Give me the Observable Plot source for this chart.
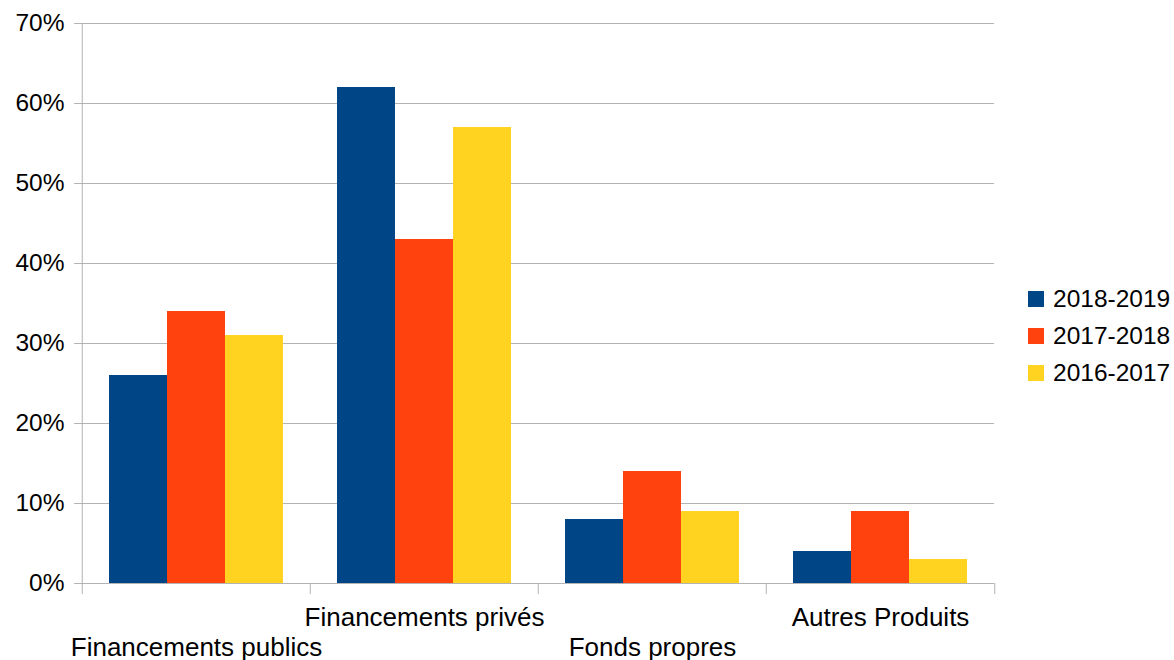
<!DOCTYPE html>
<html><head><meta charset="utf-8">
<script src="https://cdn.jsdelivr.net/npm/d3@7"></script>
<script src="https://cdn.jsdelivr.net/npm/@observablehq/plot@0.6"></script>
<style>
body{margin:0;background:#fff;font-family:"Liberation Sans",Arial,sans-serif;}
#wrap{position:relative;width:1174px;height:660px;}
#legend{position:absolute;left:1028px;top:280px;font-size:24.5px;color:#000;}
.item{display:flex;align-items:center;height:37px;}
.sw{width:16px;height:16px;margin-right:9px;flex:none;}
</style></head><body><div id="wrap"><div id="legend"></div></div>
<script>
const categories = ["Financements publics","Financements privés","Fonds propres","Autres Produits"];
const series = ["2018-2019","2017-2018","2016-2017"];
const values2018_2019 = [26,62,8,4];
const values2017_2018 = [34,43,14,9];
const values2016_2017 = [31,57,9,3];
const seriesColors = ["#004586","#ff420e","#ffd320"];
const yTicks = [0,10,20,30,40,50,60,70];

const seriesValues = [values2018_2019, values2017_2018, values2016_2017];
const data = [];
categories.forEach((c,i)=>series.forEach((s,j)=>data.push({category:c, series:s, value:seriesValues[j][i]})));

const W = 1174, H = 660, mL = 81, mR = 179, mT = 23, mB = 77;
const half = (W - mL - mR) / categories.length / 2;
const gray = "#b3b3b3";
const font = "Liberation Sans, Arial, sans-serif";

const chart = Plot.plot({
  width: W, height: H, marginLeft: mL, marginRight: mR, marginTop: mT, marginBottom: mB,
  style: {fontFamily: font, background: "#fff", overflow: "visible"},
  fx: {domain: categories, padding: 0, axis: null, label: null},
  x: {domain: series, paddingInner: 0, paddingOuter: 0.46, axis: null, label: null},
  y: {domain: [0,70], axis: null, label: null},
  color: {domain: series, range: seriesColors},
  marks: [
    Plot.gridY(yTicks, {stroke: gray, strokeOpacity: 1}),
    Plot.barY(data, {fx: "category", x: "series", y: "value", fill: "series"}),
    Plot.ruleY([0], {stroke: gray}),
    Plot.axisY(yTicks, {tickSize: 8, tickPadding: 10, tickFormat: d => d + "%", fontSize: 24.5, stroke: gray, fill: "#000", label: null}),
    Plot.axisFx({anchor: "bottom", ticks: categories, tickSize: 11, dx: -half, fill: "none", stroke: gray, label: null}),
    Plot.axisFx({anchor: "bottom", ticks: [categories[categories.length-1]], tickSize: 11, dx: half, fill: "none", stroke: gray, label: null}),
    Plot.axisFx({anchor: "bottom", ticks: [categories[0]], tickSize: -(H - mT - mB), dx: -half, fill: "none", stroke: gray, label: null}),
    Plot.axisFx({anchor: "bottom", ticks: [categories[1], categories[3]], tickSize: 0, tickPadding: 24, fontSize: 26, fill: "#000", label: null}),
    Plot.axisFx({anchor: "bottom", ticks: [categories[0], categories[2]], tickSize: 0, tickPadding: 54, fontSize: 26, fill: "#000", label: null})
  ]
});
document.getElementById("wrap").prepend(chart);

const legend = document.getElementById("legend");
series.forEach((s,i)=>{
  const item = document.createElement("div"); item.className = "item";
  const sw = document.createElement("div"); sw.className = "sw"; sw.style.background = seriesColors[i];
  const t = document.createElement("span"); t.textContent = s;
  item.append(sw, t); legend.append(item);
});
</script></body></html>
